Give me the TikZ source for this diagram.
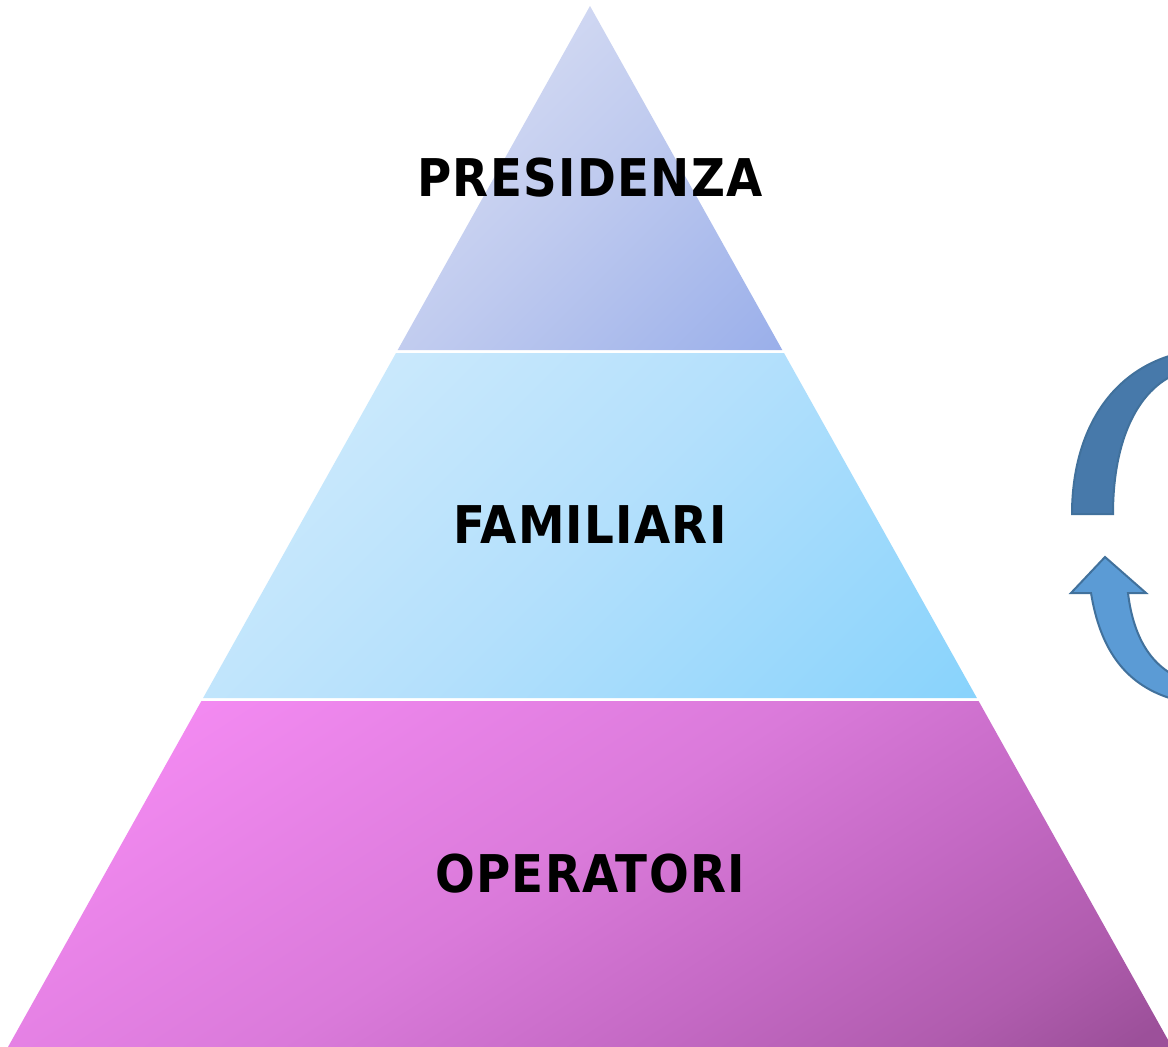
\documentclass[tikz,border=0pt]{standalone}
\usepackage{fontspec}
\newfontfamily\tierfont[LetterSpace=2.5]{DejaVu Sans Condensed Bold}
\usetikzlibrary{calc}
\definecolor{tAa}{HTML}{E0E4F5}
\definecolor{tAm}{HTML}{C0CBEF}
\definecolor{tAb}{HTML}{9AAFEA}
\definecolor{tBa}{HTML}{D5EDFC}
\definecolor{tBm}{HTML}{B4E0FC}
\definecolor{tBb}{HTML}{88D3FC}
\definecolor{tCa}{HTML}{F98EF7}
\definecolor{tCm}{HTML}{DA7ADA}
\definecolor{tCn}{HTML}{C469C4}
\definecolor{tCo}{HTML}{B05CAE}
\definecolor{tCb}{HTML}{9C509A}
\definecolor{arrDark}{HTML}{4779AA}
\definecolor{arrLight}{HTML}{5B9BD5}
\definecolor{arrLine}{HTML}{41719C}
\pgfdeclarehorizontalshading{tierAshade}{100bp}{color(0bp)=(tAa); color(14.6bp)=(tAa); color(50bp)=(tAm); color(85.4bp)=(tAb); color(100bp)=(tAb)}
\pgfdeclarehorizontalshading{tierBshade}{100bp}{color(0bp)=(tBa); color(14.6bp)=(tBa); color(50bp)=(tBm); color(85.4bp)=(tBb); color(100bp)=(tBb)}
\pgfdeclarehorizontalshading{tierCshade}{100bp}{color(0bp)=(tCa); color(17bp)=(tCa); color(48bp)=(tCm); color(63bp)=(tCn); color(75bp)=(tCo); color(83bp)=(tCb); color(100bp)=(tCb)}
\tikzset{
  tierlabel/.style={inner sep=0pt, font=\tierfont\fontsize{52}{58}\selectfont, text=black},
  arrowshape/.style={draw=arrLine, line width=2pt, line join=miter}
}
\begin{document}
\begin{tikzpicture}[x=1pt,y=-1pt]
\useasboundingbox (0,0) rectangle (1168,1047);
\fill[white] (0,0) rectangle (1168,1047);
% tiers
\shade[shading=tierAshade, shading angle=-45]
  (590,6) -- (782.3,350) -- (397.7,350) -- cycle;
\shade[shading=tierBshade, shading angle=-45]
  (396,353) -- (784,353) -- (976.9,698) -- (203.1,698) -- cycle;
\shade[shading=tierCshade, shading angle=-57]
  (201.4,701) -- (978.6,701) -- (1172,1047) -- (8,1047) -- cycle;
% labels
\node[tierlabel] (pres) at (590,178) {PRESIDENZA};
\node[tierlabel] (fam) at (590,525) {FAMILIARI};
\node[tierlabel] (oper) at (590,874) {OPERATORI};
% cycle arrows (partly outside the frame)
\begin{scope}
\clip (0,0) rectangle (1168,1047);
\draw[arrowshape, fill=arrDark]
  (1072,514) .. controls (1072,435) and (1108,370) .. (1180,353)
  -- (1184,371)
  .. controls (1138,385) and (1113,440) .. (1113,514) -- cycle;
\draw[arrowshape, fill=arrLight]
  (1091,593) .. controls (1100,648) and (1125,690) .. (1185,702)
  -- (1185,680)
  .. controls (1150,668) and (1133,635) .. (1128,593)
  -- (1146,593) -- (1105,557) -- (1071,593) -- cycle;
\end{scope}
\end{tikzpicture}
\end{document}
